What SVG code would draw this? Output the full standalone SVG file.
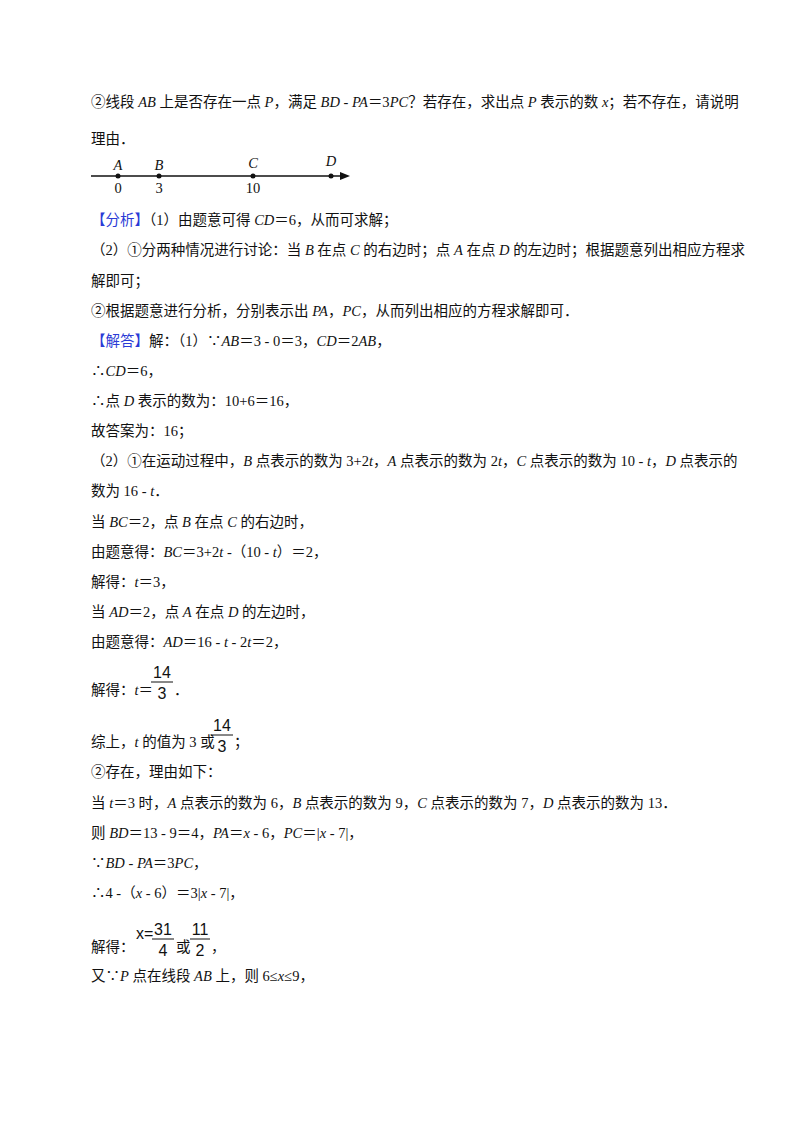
<svg xmlns="http://www.w3.org/2000/svg" width="800" height="1132" viewBox="0 0 800 1132">
<style>
text{font-family:"Liberation Serif","Noto Sans CJK SC",serif;font-size:14.5px;fill:#111}
.i{font-style:italic}
.b{fill:#2b3bd6}
.f{font-family:"Liberation Sans","Noto Sans CJK SC",sans-serif;font-size:16px}
</style>
<rect width="800" height="1132" fill="#fff"/>
<g id="text">
<text x="91" y="107">②线段 <tspan class="i">AB</tspan> 上是否存在一点 <tspan class="i">P</tspan>，满足 <tspan class="i">BD</tspan> - <tspan class="i">PA</tspan>＝3<tspan class="i">PC</tspan>？若存在，求出点 <tspan class="i">P</tspan> 表示的数 <tspan class="i">x</tspan>；若不存在，请说明</text>
<text x="91" y="144">理由．</text>
</g>
<g id="numberline">
<line x1="91" y1="176" x2="342" y2="176" stroke="#111" stroke-width="1.3"/>
<polygon points="350,176 340,172 340,180" fill="#111"/>
<circle cx="118" cy="176" r="2.5" fill="#111"/>
<circle cx="159" cy="176" r="2.5" fill="#111"/>
<circle cx="253" cy="176" r="2.5" fill="#111"/>
<circle cx="331" cy="176" r="2.5" fill="#111"/>
<text x="118" y="170" class="i" text-anchor="middle">A</text>
<text x="159" y="170" class="i" text-anchor="middle">B</text>
<text x="253" y="168" class="i" text-anchor="middle">C</text>
<text x="331" y="166" class="i" text-anchor="middle">D</text>
<text x="118" y="193" text-anchor="middle">0</text>
<text x="159" y="193" text-anchor="middle">3</text>
<text x="253" y="193" text-anchor="middle">10</text>
</g>
<g id="solution">
<text x="91" y="225"><tspan class="b">【分析】</tspan>（1）由题意可得 <tspan class="i">CD</tspan>＝6，从而可求解；</text>
<text x="91" y="255">（2）①分两种情况进行讨论：当 <tspan class="i">B</tspan> 在点 <tspan class="i">C</tspan> 的右边时；点 <tspan class="i">A</tspan> 在点 <tspan class="i">D</tspan> 的左边时；根据题意列出相应方程求</text>
<text x="91" y="286">解即可；</text>
<text x="91" y="316">②根据题意进行分析，分别表示出 <tspan class="i">PA</tspan>，<tspan class="i">PC</tspan>，从而列出相应的方程求解即可．</text>
<text x="91" y="346"><tspan class="b">【解答】</tspan>解：（1）∵<tspan class="i">AB</tspan>＝3 - 0＝3，<tspan class="i">CD</tspan>＝2<tspan class="i">AB</tspan>，</text>
<text x="91" y="376">∴<tspan class="i">CD</tspan>＝6，</text>
<text x="91" y="406">∴点 <tspan class="i">D</tspan> 表示的数为：10+6＝16，</text>
<text x="91" y="436">故答案为：16；</text>
<text x="91" y="466">（2）①在运动过程中，<tspan class="i">B</tspan> 点表示的数为 3+2<tspan class="i">t</tspan>，<tspan class="i">A</tspan> 点表示的数为 2<tspan class="i">t</tspan>，<tspan class="i">C</tspan> 点表示的数为 10 - <tspan class="i">t</tspan>，<tspan class="i">D</tspan> 点表示的</text>
<text x="91" y="496">数为 16 - <tspan class="i">t</tspan>．</text>
<text x="91" y="527">当 <tspan class="i">BC</tspan>＝2，点 <tspan class="i">B</tspan> 在点 <tspan class="i">C</tspan> 的右边时，</text>
<text x="91" y="557">由题意得：<tspan class="i">BC</tspan>＝3+2<tspan class="i">t</tspan> -（10 - <tspan class="i">t</tspan>）＝2，</text>
<text x="91" y="587">解得：<tspan class="i">t</tspan>＝3，</text>
<text x="91" y="617">当 <tspan class="i">AD</tspan>＝2，点 <tspan class="i">A</tspan> 在点 <tspan class="i">D</tspan> 的左边时，</text>
<text x="91" y="647">由题意得：<tspan class="i">AD</tspan>＝16 - <tspan class="i">t</tspan> - 2<tspan class="i">t</tspan>＝2，</text>
<text x="91" y="695">解得：<tspan class="i">t</tspan>＝</text>
<text x="162" y="678" class="f" text-anchor="middle">14</text>
<line x1="151" y1="682" x2="173" y2="682" stroke="#111" stroke-width="1"/>
<text x="162" y="699" class="f" text-anchor="middle">3</text>
<text x="174" y="695">．</text>
<text x="91" y="747">综上，<tspan class="i">t</tspan> 的值为 3 或</text>
<text x="222" y="731" class="f" text-anchor="middle">14</text>
<line x1="211" y1="735" x2="233" y2="735" stroke="#111" stroke-width="1"/>
<text x="222" y="752" class="f" text-anchor="middle">3</text>
<text x="234" y="747">；</text>
<text x="91" y="777">②存在，理由如下：</text>
<text x="91" y="808">当 <tspan class="i">t</tspan>＝3 时，<tspan class="i">A</tspan> 点表示的数为 6，<tspan class="i">B</tspan> 点表示的数为 9，<tspan class="i">C</tspan> 点表示的数为 7，<tspan class="i">D</tspan> 点表示的数为 13．</text>
<text x="91" y="838">则 <tspan class="i">BD</tspan>＝13 - 9＝4，<tspan class="i">PA</tspan>＝<tspan class="i">x</tspan> - 6，<tspan class="i">PC</tspan>＝|<tspan class="i">x</tspan> - 7|，</text>
<text x="91" y="868">∵<tspan class="i">BD</tspan> - <tspan class="i">PA</tspan>＝3<tspan class="i">PC</tspan>，</text>
<text x="91" y="898">∴4 -（<tspan class="i">x</tspan> - 6）＝3|<tspan class="i">x</tspan> - 7|，</text>
<text x="91" y="952">解得：</text>
<text x="136" y="939" class="f">x=</text>
<text x="163" y="935" class="f" text-anchor="middle">31</text>
<line x1="152" y1="939" x2="174" y2="939" stroke="#111" stroke-width="1"/>
<text x="163" y="956" class="f" text-anchor="middle">4</text>
<text x="176" y="952">或</text>
<text x="200" y="935" class="f" text-anchor="middle">11</text>
<line x1="190" y1="939" x2="210" y2="939" stroke="#111" stroke-width="1"/>
<text x="200" y="956" class="f" text-anchor="middle">2</text>
<text x="211" y="952">，</text>
<text x="91" y="981">又∵<tspan class="i">P</tspan> 点在线段 <tspan class="i">AB</tspan> 上，则 6≤<tspan class="i">x</tspan>≤9，</text>
</g>
</svg>
